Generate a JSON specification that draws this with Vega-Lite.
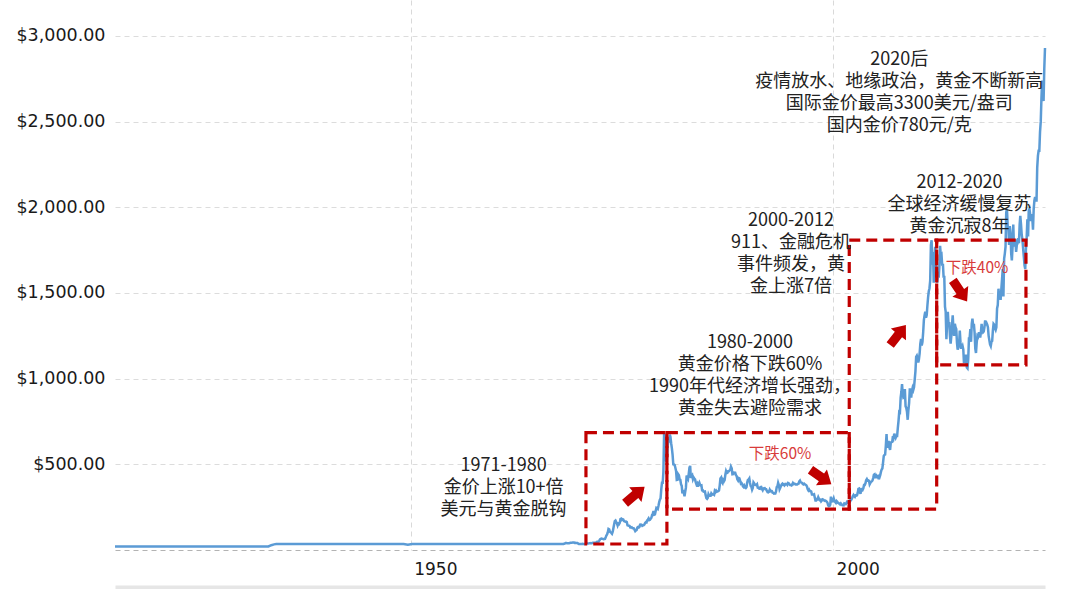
{
"$schema": "https://vega.github.io/schema/vega-lite/v6.json",
"autosize": {"type": "none"},
"padding": {"left": 115, "top": 0, "right": 35, "bottom": 39},
"width": 930,
"height": 550,
"background": "white",
"config": {"view": {"stroke": null}},
"datasets": {
"gold": [
{"d":"1915-01","p":20.67},{"d":"1920-01","p":20.67},{"d":"1925-01","p":20.67},{"d":"1930-01","p":20.67},{"d":"1933-03","p":20.67},{"d":"1933-07","p":28},{"d":"1933-11","p":33},{"d":"1934-02","p":35},{"d":"1940-01","p":35},{"d":"1945-01","p":35},{"d":"1949-03","p":35},{"d":"1949-09","p":31},{"d":"1950-03","p":34.7},{"d":"1955-01","p":35},{"d":"1960-01","p":35},{"d":"1965-01","p":35},{"d":"1967-12","p":35},
{"d":"1968-01","p":35.2},{"d":"1968-02","p":35.2},{"d":"1968-03","p":37.0},{"d":"1968-04","p":37.7},{"d":"1968-05","p":40.6},{"d":"1968-06","p":41.2},{"d":"1968-07","p":39.5},{"d":"1968-08","p":39.2},{"d":"1968-09","p":39.3},{"d":"1968-10","p":39.5},{"d":"1968-11","p":40.8},{"d":"1968-12","p":41.9},
{"d":"1969-01","p":42.4},{"d":"1969-02","p":42.7},{"d":"1969-03","p":43.4},{"d":"1969-04","p":43.2},{"d":"1969-05","p":43.5},{"d":"1969-06","p":41.1},{"d":"1969-07","p":42.0},{"d":"1969-08","p":41.0},{"d":"1969-09","p":40.3},{"d":"1969-10","p":40.4},{"d":"1969-11","p":37.4},{"d":"1969-12","p":35.2},
{"d":"1970-01","p":34.9},{"d":"1970-02","p":35.0},{"d":"1970-03","p":35.1},{"d":"1970-04","p":35.6},{"d":"1970-05","p":35.9},{"d":"1970-06","p":35.4},{"d":"1970-07","p":35.3},{"d":"1970-08","p":35.4},{"d":"1970-09","p":36.2},{"d":"1970-10","p":37.5},{"d":"1970-11","p":37.4},{"d":"1970-12","p":37.4},
{"d":"1971-01","p":37.9},{"d":"1971-02","p":38.7},{"d":"1971-03","p":38.9},{"d":"1971-04","p":39.0},{"d":"1971-05","p":40.5},{"d":"1971-06","p":40.1},{"d":"1971-07","p":41.0},{"d":"1971-08","p":42.7},{"d":"1971-09","p":42.0},{"d":"1971-10","p":42.5},{"d":"1971-11","p":42.9},{"d":"1971-12","p":43.5},
{"d":"1972-01","p":45.8},{"d":"1972-02","p":48.3},{"d":"1972-03","p":48.3},{"d":"1972-04","p":49.0},{"d":"1972-05","p":54.6},{"d":"1972-06","p":62.1},{"d":"1972-07","p":65.7},{"d":"1972-08","p":67.0},{"d":"1972-09","p":65.5},{"d":"1972-10","p":64.9},{"d":"1972-11","p":62.9},{"d":"1972-12","p":63.9},
{"d":"1973-01","p":65.1},{"d":"1973-02","p":74.2},{"d":"1973-03","p":84.4},{"d":"1973-04","p":90.5},{"d":"1973-05","p":102},{"d":"1973-06","p":122.5},{"d":"1973-07","p":120},{"d":"1973-08","p":106.8},{"d":"1973-09","p":103},{"d":"1973-10","p":100.1},{"d":"1973-11","p":94.9},{"d":"1973-12","p":106.5},
{"d":"1974-01","p":129},{"d":"1974-02","p":150},{"d":"1974-03","p":168},{"d":"1974-04","p":172},{"d":"1974-05","p":163},{"d":"1974-06","p":155},{"d":"1974-07","p":143},{"d":"1974-08","p":154},{"d":"1974-09","p":151},{"d":"1974-10","p":158},{"d":"1974-11","p":181},{"d":"1974-12","p":183},
{"d":"1975-01","p":176},{"d":"1975-02","p":180},{"d":"1975-03","p":178},{"d":"1975-04","p":169},{"d":"1975-05","p":167},{"d":"1975-06","p":165},{"d":"1975-07","p":166},{"d":"1975-08","p":163},{"d":"1975-09","p":144},{"d":"1975-10","p":143},{"d":"1975-11","p":142},{"d":"1975-12","p":140},
{"d":"1976-01","p":131},{"d":"1976-02","p":131},{"d":"1976-03","p":133},{"d":"1976-04","p":128},{"d":"1976-05","p":127},{"d":"1976-06","p":126},{"d":"1976-07","p":118},{"d":"1976-08","p":110},{"d":"1976-09","p":114},{"d":"1976-10","p":117},{"d":"1976-11","p":131},{"d":"1976-12","p":134},
{"d":"1977-01","p":132},{"d":"1977-02","p":136},{"d":"1977-03","p":148},{"d":"1977-04","p":149},{"d":"1977-05","p":147},{"d":"1977-06","p":141},{"d":"1977-07","p":143},{"d":"1977-08","p":145},{"d":"1977-09","p":149},{"d":"1977-10","p":158},{"d":"1977-11","p":162},{"d":"1977-12","p":161},
{"d":"1978-01","p":173},{"d":"1978-02","p":178},{"d":"1978-03","p":184},{"d":"1978-04","p":175},{"d":"1978-05","p":177},{"d":"1978-06","p":183},{"d":"1978-07","p":188},{"d":"1978-08","p":206},{"d":"1978-09","p":212},{"d":"1978-10","p":227},{"d":"1978-11","p":206},{"d":"1978-12","p":208},
{"d":"1979-01","p":227},{"d":"1979-02","p":245},{"d":"1979-03","p":242},{"d":"1979-04","p":239},{"d":"1979-05","p":257},{"d":"1979-06","p":279},{"d":"1979-07","p":294},{"d":"1979-08","p":301},{"d":"1979-09","p":355},{"d":"1979-10","p":392},{"d":"1979-11","p":392},{"d":"1979-12","p":456},
{"d":"1980-01","p":683},{"d":"1980-02","p":665},{"d":"1980-03","p":554},{"d":"1980-04","p":517},{"d":"1980-05","p":514},{"d":"1980-06","p":600},{"d":"1980-07","p":644},{"d":"1980-08","p":627},{"d":"1980-09","p":674},{"d":"1980-10","p":661},{"d":"1980-11","p":623},{"d":"1980-12","p":595},
{"d":"1981-01","p":557},{"d":"1981-02","p":500},{"d":"1981-03","p":499},{"d":"1981-04","p":496},{"d":"1981-05","p":480},{"d":"1981-06","p":461},{"d":"1981-07","p":409},{"d":"1981-08","p":410},{"d":"1981-09","p":443},{"d":"1981-10","p":437},{"d":"1981-11","p":413},{"d":"1981-12","p":410},
{"d":"1982-01","p":384},{"d":"1982-02","p":374},{"d":"1982-03","p":330},{"d":"1982-04","p":350},{"d":"1982-05","p":334},{"d":"1982-06","p":314},{"d":"1982-07","p":339},{"d":"1982-08","p":364},{"d":"1982-09","p":435},{"d":"1982-10","p":422},{"d":"1982-11","p":414},{"d":"1982-12","p":444},
{"d":"1983-01","p":481},{"d":"1983-02","p":491},{"d":"1983-03","p":420},{"d":"1983-04","p":432},{"d":"1983-05","p":437},{"d":"1983-06","p":413},{"d":"1983-07","p":423},{"d":"1983-08","p":416},{"d":"1983-09","p":412},{"d":"1983-10","p":394},{"d":"1983-11","p":382},{"d":"1983-12","p":388},
{"d":"1984-01","p":370},{"d":"1984-02","p":386},{"d":"1984-03","p":394},{"d":"1984-04","p":381},{"d":"1984-05","p":377},{"d":"1984-06","p":378},{"d":"1984-07","p":348},{"d":"1984-08","p":348},{"d":"1984-09","p":341},{"d":"1984-10","p":340},{"d":"1984-11","p":341},{"d":"1984-12","p":320},
{"d":"1985-01","p":303},{"d":"1985-02","p":299},{"d":"1985-03","p":304},{"d":"1985-04","p":325},{"d":"1985-05","p":316},{"d":"1985-06","p":317},{"d":"1985-07","p":317},{"d":"1985-08","p":330},{"d":"1985-09","p":323},{"d":"1985-10","p":326},{"d":"1985-11","p":325},{"d":"1985-12","p":322},
{"d":"1986-01","p":345},{"d":"1986-02","p":339},{"d":"1986-03","p":346},{"d":"1986-04","p":340},{"d":"1986-05","p":342},{"d":"1986-06","p":343},{"d":"1986-07","p":348},{"d":"1986-08","p":376},{"d":"1986-09","p":418},{"d":"1986-10","p":423},{"d":"1986-11","p":396},{"d":"1986-12","p":390},
{"d":"1987-01","p":408},{"d":"1987-02","p":401},{"d":"1987-03","p":408},{"d":"1987-04","p":439},{"d":"1987-05","p":460},{"d":"1987-06","p":449},{"d":"1987-07","p":451},{"d":"1987-08","p":460},{"d":"1987-09","p":460},{"d":"1987-10","p":465},{"d":"1987-11","p":468},{"d":"1987-12","p":486},
{"d":"1988-01","p":477},{"d":"1988-02","p":442},{"d":"1988-03","p":443},{"d":"1988-04","p":452},{"d":"1988-05","p":451},{"d":"1988-06","p":451},{"d":"1988-07","p":437},{"d":"1988-08","p":432},{"d":"1988-09","p":413},{"d":"1988-10","p":406},{"d":"1988-11","p":420},{"d":"1988-12","p":418},
{"d":"1989-01","p":404},{"d":"1989-02","p":388},{"d":"1989-03","p":391},{"d":"1989-04","p":385},{"d":"1989-05","p":371},{"d":"1989-06","p":367},{"d":"1989-07","p":375},{"d":"1989-08","p":365},{"d":"1989-09","p":362},{"d":"1989-10","p":367},{"d":"1989-11","p":394},{"d":"1989-12","p":409},
{"d":"1990-01","p":410},{"d":"1990-02","p":417},{"d":"1990-03","p":393},{"d":"1990-04","p":374},{"d":"1990-05","p":369},{"d":"1990-06","p":352},{"d":"1990-07","p":362},{"d":"1990-08","p":395},{"d":"1990-09","p":389},{"d":"1990-10","p":381},{"d":"1990-11","p":381},{"d":"1990-12","p":378},
{"d":"1991-01","p":383},{"d":"1991-02","p":364},{"d":"1991-03","p":363},{"d":"1991-04","p":358},{"d":"1991-05","p":357},{"d":"1991-06","p":367},{"d":"1991-07","p":368},{"d":"1991-08","p":356},{"d":"1991-09","p":349},{"d":"1991-10","p":359},{"d":"1991-11","p":360},{"d":"1991-12","p":361},
{"d":"1992-01","p":354},{"d":"1992-02","p":354},{"d":"1992-03","p":345},{"d":"1992-04","p":338},{"d":"1992-05","p":337},{"d":"1992-06","p":341},{"d":"1992-07","p":352},{"d":"1992-08","p":343},{"d":"1992-09","p":345},{"d":"1992-10","p":344},{"d":"1992-11","p":335},{"d":"1992-12","p":334},
{"d":"1993-01","p":329},{"d":"1993-02","p":330},{"d":"1993-03","p":330},{"d":"1993-04","p":342},{"d":"1993-05","p":367},{"d":"1993-06","p":372},{"d":"1993-07","p":392},{"d":"1993-08","p":379},{"d":"1993-09","p":355},{"d":"1993-10","p":364},{"d":"1993-11","p":373},{"d":"1993-12","p":383},
{"d":"1994-01","p":387},{"d":"1994-02","p":382},{"d":"1994-03","p":384},{"d":"1994-04","p":377},{"d":"1994-05","p":381},{"d":"1994-06","p":386},{"d":"1994-07","p":385},{"d":"1994-08","p":380},{"d":"1994-09","p":391},{"d":"1994-10","p":389},{"d":"1994-11","p":384},{"d":"1994-12","p":379},
{"d":"1995-01","p":379},{"d":"1995-02","p":377},{"d":"1995-03","p":382},{"d":"1995-04","p":391},{"d":"1995-05","p":385},{"d":"1995-06","p":387},{"d":"1995-07","p":386},{"d":"1995-08","p":383},{"d":"1995-09","p":383},{"d":"1995-10","p":383},{"d":"1995-11","p":386},{"d":"1995-12","p":387},
{"d":"1996-01","p":400},{"d":"1996-02","p":405},{"d":"1996-03","p":396},{"d":"1996-04","p":393},{"d":"1996-05","p":392},{"d":"1996-06","p":385},{"d":"1996-07","p":383},{"d":"1996-08","p":387},{"d":"1996-09","p":383},{"d":"1996-10","p":381},{"d":"1996-11","p":378},{"d":"1996-12","p":369},
{"d":"1997-01","p":355},{"d":"1997-02","p":347},{"d":"1997-03","p":352},{"d":"1997-04","p":344},{"d":"1997-05","p":344},{"d":"1997-06","p":341},{"d":"1997-07","p":324},{"d":"1997-08","p":324},{"d":"1997-09","p":323},{"d":"1997-10","p":325},{"d":"1997-11","p":306},{"d":"1997-12","p":289},
{"d":"1998-01","p":289},{"d":"1998-02","p":297},{"d":"1998-03","p":296},{"d":"1998-04","p":308},{"d":"1998-05","p":299},{"d":"1998-06","p":292},{"d":"1998-07","p":293},{"d":"1998-08","p":284},{"d":"1998-09","p":289},{"d":"1998-10","p":296},{"d":"1998-11","p":294},{"d":"1998-12","p":291},
{"d":"1999-01","p":287},{"d":"1999-02","p":288},{"d":"1999-03","p":286},{"d":"1999-04","p":282},{"d":"1999-05","p":277},{"d":"1999-06","p":262},{"d":"1999-07","p":256},{"d":"1999-08","p":257},{"d":"1999-09","p":265},{"d":"1999-10","p":311},{"d":"1999-11","p":293},{"d":"1999-12","p":284},
{"d":"2000-01","p":285},{"d":"2000-02","p":300},{"d":"2000-03","p":286},{"d":"2000-04","p":280},{"d":"2000-05","p":275},{"d":"2000-06","p":286},{"d":"2000-07","p":282},{"d":"2000-08","p":275},{"d":"2000-09","p":274},{"d":"2000-10","p":270},{"d":"2000-11","p":266},{"d":"2000-12","p":272},
{"d":"2001-01","p":266},{"d":"2001-02","p":262},{"d":"2001-03","p":263},{"d":"2001-04","p":261},{"d":"2001-05","p":272},{"d":"2001-06","p":270},{"d":"2001-07","p":268},{"d":"2001-08","p":273},{"d":"2001-09","p":283},{"d":"2001-10","p":283},{"d":"2001-11","p":276},{"d":"2001-12","p":276},
{"d":"2002-01","p":282},{"d":"2002-02","p":296},{"d":"2002-03","p":294},{"d":"2002-04","p":302},{"d":"2002-05","p":314},{"d":"2002-06","p":321},{"d":"2002-07","p":314},{"d":"2002-08","p":310},{"d":"2002-09","p":319},{"d":"2002-10","p":317},{"d":"2002-11","p":319},{"d":"2002-12","p":333},
{"d":"2003-01","p":357},{"d":"2003-02","p":359},{"d":"2003-03","p":340},{"d":"2003-04","p":328},{"d":"2003-05","p":355},{"d":"2003-06","p":356},{"d":"2003-07","p":351},{"d":"2003-08","p":360},{"d":"2003-09","p":379},{"d":"2003-10","p":379},{"d":"2003-11","p":389},{"d":"2003-12","p":407},
{"d":"2004-01","p":414},{"d":"2004-02","p":405},{"d":"2004-03","p":406},{"d":"2004-04","p":404},{"d":"2004-05","p":384},{"d":"2004-06","p":392},{"d":"2004-07","p":398},{"d":"2004-08","p":401},{"d":"2004-09","p":406},{"d":"2004-10","p":420},{"d":"2004-11","p":439},{"d":"2004-12","p":442},
{"d":"2005-01","p":424},{"d":"2005-02","p":424},{"d":"2005-03","p":434},{"d":"2005-04","p":429},{"d":"2005-05","p":422},{"d":"2005-06","p":430},{"d":"2005-07","p":424},{"d":"2005-08","p":437},{"d":"2005-09","p":456},{"d":"2005-10","p":470},{"d":"2005-11","p":476},{"d":"2005-12","p":510},
{"d":"2006-01","p":549},{"d":"2006-02","p":555},{"d":"2006-03","p":557},{"d":"2006-04","p":610},{"d":"2006-05","p":676},{"d":"2006-06","p":596},{"d":"2006-07","p":633},{"d":"2006-08","p":632},{"d":"2006-09","p":598},{"d":"2006-10","p":585},{"d":"2006-11","p":627},{"d":"2006-12","p":629},
{"d":"2007-01","p":631},{"d":"2007-02","p":665},{"d":"2007-03","p":655},{"d":"2007-04","p":679},{"d":"2007-05","p":667},{"d":"2007-06","p":655},{"d":"2007-07","p":665},{"d":"2007-08","p":665},{"d":"2007-09","p":713},{"d":"2007-10","p":754},{"d":"2007-11","p":806},{"d":"2007-12","p":803},
{"d":"2008-01","p":889},{"d":"2008-02","p":922},{"d":"2008-03","p":968},{"d":"2008-04","p":909},{"d":"2008-05","p":888},{"d":"2008-06","p":890},{"d":"2008-07","p":939},{"d":"2008-08","p":839},{"d":"2008-09","p":829},{"d":"2008-10","p":806},{"d":"2008-11","p":760},{"d":"2008-12","p":816},
{"d":"2009-01","p":858},{"d":"2009-02","p":943},{"d":"2009-03","p":924},{"d":"2009-04","p":890},{"d":"2009-05","p":928},{"d":"2009-06","p":946},{"d":"2009-07","p":934},{"d":"2009-08","p":949},{"d":"2009-09","p":996},{"d":"2009-10","p":1043},{"d":"2009-11","p":1127},{"d":"2009-12","p":1134},
{"d":"2010-01","p":1118},{"d":"2010-02","p":1095},{"d":"2010-03","p":1113},{"d":"2010-04","p":1148},{"d":"2010-05","p":1205},{"d":"2010-06","p":1232},{"d":"2010-07","p":1193},{"d":"2010-08","p":1215},{"d":"2010-09","p":1271},{"d":"2010-10","p":1342},{"d":"2010-11","p":1370},{"d":"2010-12","p":1391},
{"d":"2011-01","p":1356},{"d":"2011-02","p":1372},{"d":"2011-03","p":1424},{"d":"2011-04","p":1474},{"d":"2011-05","p":1510},{"d":"2011-06","p":1528},{"d":"2011-07","p":1572},{"d":"2011-08","p":1780},{"d":"2011-09","p":1808},{"d":"2011-10","p":1665},{"d":"2011-11","p":1739},{"d":"2011-12","p":1560},
{"d":"2012-01","p":1700},{"d":"2012-02","p":1770},{"d":"2012-03","p":1660},{"d":"2012-04","p":1650},{"d":"2012-05","p":1560},{"d":"2012-06","p":1600},{"d":"2012-07","p":1590},{"d":"2012-08","p":1650},{"d":"2012-09","p":1775},{"d":"2012-10","p":1720},{"d":"2012-11","p":1725},{"d":"2012-12","p":1660},
{"d":"2013-01","p":1670},{"d":"2013-02","p":1590},{"d":"2013-03","p":1600},{"d":"2013-04","p":1420},{"d":"2013-05","p":1390},{"d":"2013-06","p":1230},{"d":"2013-07","p":1320},{"d":"2013-08","p":1390},{"d":"2013-09","p":1320},{"d":"2013-10","p":1330},{"d":"2013-11","p":1250},{"d":"2013-12","p":1205},
{"d":"2014-01","p":1250},{"d":"2014-02","p":1320},{"d":"2014-03","p":1370},{"d":"2014-04","p":1290},{"d":"2014-05","p":1250},{"d":"2014-06","p":1320},{"d":"2014-07","p":1300},{"d":"2014-08","p":1290},{"d":"2014-09","p":1210},{"d":"2014-10","p":1170},{"d":"2014-11","p":1180},{"d":"2014-12","p":1200},
{"d":"2015-01","p":1280},{"d":"2015-02","p":1210},{"d":"2015-03","p":1180},{"d":"2015-04","p":1180},{"d":"2015-05","p":1190},{"d":"2015-06","p":1170},{"d":"2015-07","p":1090},{"d":"2015-08","p":1135},{"d":"2015-09","p":1115},{"d":"2015-10","p":1140},{"d":"2015-11","p":1065},{"d":"2015-12","p":1060},
{"d":"2016-01","p":1115},{"d":"2016-02","p":1235},{"d":"2016-03","p":1235},{"d":"2016-04","p":1290},{"d":"2016-05","p":1215},{"d":"2016-06","p":1320},{"d":"2016-07","p":1350},{"d":"2016-08","p":1310},{"d":"2016-09","p":1320},{"d":"2016-10","p":1270},{"d":"2016-11","p":1175},{"d":"2016-12","p":1150},
{"d":"2017-01","p":1210},{"d":"2017-02","p":1250},{"d":"2017-03","p":1245},{"d":"2017-04","p":1265},{"d":"2017-05","p":1265},{"d":"2017-06","p":1240},{"d":"2017-07","p":1270},{"d":"2017-08","p":1320},{"d":"2017-09","p":1280},{"d":"2017-10","p":1270},{"d":"2017-11","p":1275},{"d":"2017-12","p":1300},
{"d":"2018-01","p":1340},{"d":"2018-02","p":1320},{"d":"2018-03","p":1325},{"d":"2018-04","p":1315},{"d":"2018-05","p":1300},{"d":"2018-06","p":1250},{"d":"2018-07","p":1225},{"d":"2018-08","p":1200},{"d":"2018-09","p":1190},{"d":"2018-10","p":1215},{"d":"2018-11","p":1220},{"d":"2018-12","p":1280},
{"d":"2019-01","p":1320},{"d":"2019-02","p":1315},{"d":"2019-03","p":1295},{"d":"2019-04","p":1285},{"d":"2019-05","p":1300},{"d":"2019-06","p":1410},{"d":"2019-07","p":1430},{"d":"2019-08","p":1525},{"d":"2019-09","p":1470},{"d":"2019-10","p":1510},{"d":"2019-11","p":1460},{"d":"2019-12","p":1520},
{"d":"2020-01","p":1580},{"d":"2020-02","p":1640},{"d":"2020-03","p":1480},{"d":"2020-04","p":1700},{"d":"2020-05","p":1730},{"d":"2020-06","p":1770},{"d":"2020-07","p":1970},{"d":"2020-08","p":1990},{"d":"2020-09","p":1890},{"d":"2020-10","p":1880},{"d":"2020-11","p":1780},{"d":"2020-12","p":1890},
{"d":"2021-01","p":1850},{"d":"2021-02","p":1730},{"d":"2021-03","p":1690},{"d":"2021-04","p":1770},{"d":"2021-05","p":1900},{"d":"2021-06","p":1770},{"d":"2021-07","p":1810},{"d":"2021-08","p":1810},{"d":"2021-09","p":1740},{"d":"2021-10","p":1780},{"d":"2021-11","p":1790},{"d":"2021-12","p":1820},
{"d":"2022-01","p":1790},{"d":"2022-02","p":1900},{"d":"2022-03","p":1950},{"d":"2022-04","p":1900},{"d":"2022-05","p":1840},{"d":"2022-06","p":1810},{"d":"2022-07","p":1760},{"d":"2022-08","p":1710},{"d":"2022-09","p":1660},{"d":"2022-10","p":1640},{"d":"2022-11","p":1760},{"d":"2022-12","p":1820},
{"d":"2023-01","p":1930},{"d":"2023-02","p":1830},{"d":"2023-03","p":1980},{"d":"2023-04","p":1990},{"d":"2023-05","p":1960},{"d":"2023-06","p":1920},{"d":"2023-07","p":1960},{"d":"2023-08","p":1940},{"d":"2023-09","p":1870},{"d":"2023-10","p":1990},{"d":"2023-11","p":2040},{"d":"2023-12","p":2060},
{"d":"2024-01","p":2040},{"d":"2024-02","p":2040},{"d":"2024-03","p":2230},{"d":"2024-04","p":2300},{"d":"2024-05","p":2330},{"d":"2024-06","p":2330},{"d":"2024-07","p":2440},{"d":"2024-08","p":2500},{"d":"2024-09","p":2640},{"d":"2024-10","p":2740},{"d":"2024-11","p":2650},{"d":"2024-12","p":2620},
{"d":"2025-01","p":2810},{"d":"2025-02","p":2930}
],
"boxes": [
{"d":"1970-10-01","d2":"1980-05-01","p":35,"p2":685},
{"d":"1980-05-01","d2":"2001-12-01","p":239,"p2":685},
{"d":"2001-12-01","d2":"2012-04-07","p":239,"p2":1809},
{"d":"2012-04-07","d2":"2022-11-01","p":1080,"p2":1809}
],
"arrow1": [{"d":"1976-07-15","p":321}],
"arrow2": [{"d":"1998-07-25","p":426}],
"arrow3": [{"d":"2007-09-10","p":1255}],
"arrow4": [{"d":"2015-01-08","p":1512}],
"notes": [
{"d":"1961-01-01","p":540,"t":"1971-1980\n金价上涨10+倍\n美元与黄金脱钩"},
{"d":"1990-03-01","p":1259,"t":"1980-2000\n黄金价格下跌60%\n1990年代经济增长强劲，\n黄金失去避险需求"},
{"d":"1995-01-08","p":1970,"t":"2000-2012\n911、金融危机\n事件频发，黄\n金上涨7倍"},
{"d":"2014-12-20","p":2193,"t":"2012-2020\n全球经济缓慢复苏\n黄金沉寂8年"},
{"d":"2007-11-03","p":2913,"t":"2020后\n疫情放水、地缘政治，黄金不断新高\n国际金价最高3300美元/盎司\n国内金价780元/克"}
],
"red": [
{"d":"1993-09-20","p":558,"t":"下跌60%"},
{"d":"2017-01-15","p":1647,"t":"下跌40%"}
]
},
"encoding": {
"x": {"field": "d", "type": "temporal",
 "scale": {"domain": [{"year": 1915, "month": 1, "date": 1}, {"year": 2025, "month": 2, "date": 1}], "nice": false},
 "axis": {"title": null, "values": [{"year": 1950, "month": 1, "date": 1}, {"year": 2000, "month": 1, "date": 1}], "format": "%Y",
  "labelAlign": "left", "labelOffset": 3, "labelFontSize": 17, "labelFont": "DejaVu Sans", "labelColor": "#1a1a1a",
  "ticks": false, "tickSize": 0, "offset": 37, "domainColor": "#e6e6e6", "domainWidth": 4,
  "labelPadding": -26, "labelBaseline": "top", "labelFlush": false, "labelOverlap": false,
  "grid": true, "gridColor": "#d9d9d9", "gridDash": [5, 4], "gridWidth": 1}},
"y": {"field": "p", "type": "quantitative",
 "scale": {"domain": [0, 3210], "nice": false, "zero": true},
 "axis": {"title": null, "values": [0, 500, 1000, 1500, 2000, 2500, 3000],
  "labelExpr": "datum.value === 0 ? '' : format(datum.value, '$,.2f')",
  "domain": false, "ticks": false, "labelPadding": 10, "labelFontSize": 17.5, "labelFont": "DejaVu Sans", "labelColor": "#1a1a1a",
  "grid": true, "gridDash": [5, 4], "gridWidth": 1,
  "gridColor": {"condition": {"test": "datum.value === 0", "value": "#b3b3b3"}, "value": "#dcdcdc"}}}
},
"layer": [
{"data": {"name": "gold"}, "mark": {"type": "line", "color": "#5b9bd5", "strokeWidth": 2.5, "interpolate": "linear"}},
{"data": {"name": "boxes"}, "mark": {"type": "rect", "fillOpacity": 0, "stroke": "#c00000", "strokeWidth": 3.2, "strokeDash": [11, 6]},
 "encoding": {"x2": {"field": "d2"}, "y2": {"field": "p2"}}},
{"data": {"name": "arrow1"}, "mark": {"type": "point", "filled": true, "color": "#c00000", "opacity": 1, "size": 650, "angle": -40,
 "shape": "M-1,-0.36L0.05,-0.36L0.05,-0.75L1,0L0.05,0.75L0.05,0.36L-1,0.36Z"}},
{"data": {"name": "arrow2"}, "mark": {"type": "point", "filled": true, "color": "#c00000", "opacity": 1, "size": 650, "angle": 35,
 "shape": "M-1,-0.36L0.05,-0.36L0.05,-0.75L1,0L0.05,0.75L0.05,0.36L-1,0.36Z"}},
{"data": {"name": "arrow3"}, "mark": {"type": "point", "filled": true, "color": "#c00000", "opacity": 1, "size": 650, "angle": -52,
 "shape": "M-1,-0.36L0.05,-0.36L0.05,-0.75L1,0L0.05,0.75L0.05,0.36L-1,0.36Z"}},
{"data": {"name": "arrow4"}, "mark": {"type": "point", "filled": true, "color": "#c00000", "opacity": 1, "size": 650, "angle": 56,
 "shape": "M-1,-0.36L0.05,-0.36L0.05,-0.75L1,0L0.05,0.75L0.05,0.36L-1,0.36Z"}},
{"data": {"name": "notes"}, "mark": {"type": "text", "lineBreak": "\n", "font": "Noto Sans CJK SC", "fontSize": 18, "lineHeight": 22, "color": "#222", "align": "center", "baseline": "top"},
 "encoding": {"text": {"field": "t"}}},
{"data": {"name": "red"}, "mark": {"type": "text", "font": "Noto Sans CJK SC", "fontSize": 15.5, "color": "#d83b3b", "align": "center", "baseline": "middle"},
 "encoding": {"text": {"field": "t"}}}
]
}
